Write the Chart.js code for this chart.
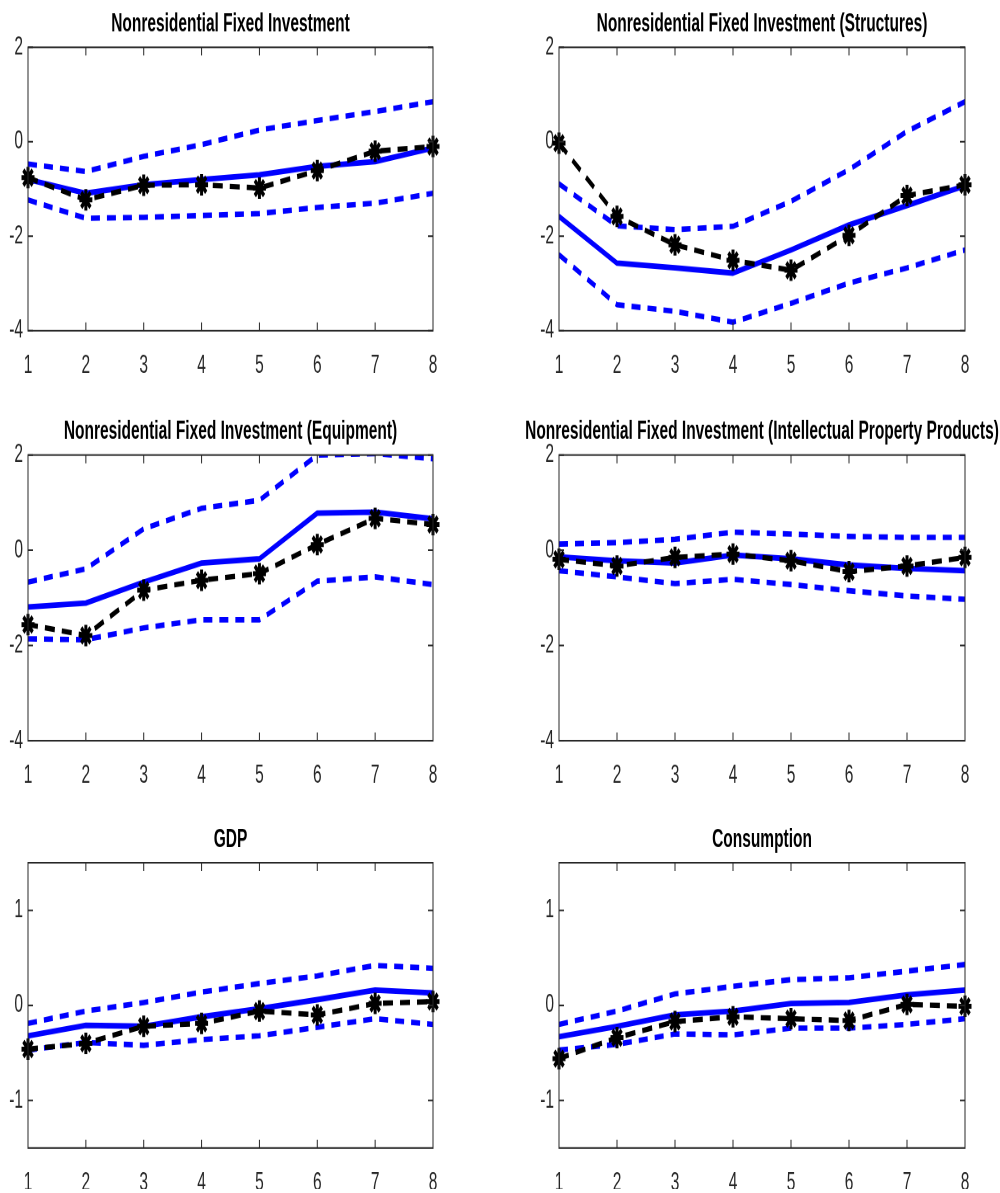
<!DOCTYPE html>
<html>
<head>
<meta charset="utf-8">
<script src="https://cdn.jsdelivr.net/npm/chart.js@4.4.1/dist/chart.umd.min.js"></script>
<style>
  html, body { margin: 0; padding: 0; background: #ffffff; }
  body { width: 1000px; height: 1193px; position: relative; overflow: hidden; }
  .panel { position: absolute; width: 500px; height: 236px; transform: scaleY(1.65); transform-origin: 0 0; }
</style>
</head>
<body>
<div class="panel" style="left:0px;top:0px"><canvas id="c1" width="500" height="236"></canvas></div>
<div class="panel" style="left:500px;top:0px"><canvas id="c2" width="500" height="236"></canvas></div>
<div class="panel" style="left:0px;top:400px"><canvas id="c3" width="500" height="236"></canvas></div>
<div class="panel" style="left:500px;top:400px"><canvas id="c4" width="500" height="236"></canvas></div>
<div class="panel" style="left:0px;top:800px"><canvas id="c5" width="500" height="236"></canvas></div>
<div class="panel" style="left:500px;top:800px"><canvas id="c6" width="500" height="236"></canvas></div>
<script>
// ---------- data ----------
const horizons = ['1', '2', '3', '4', '5', '6', '7', '8'];
const yTicksWide = [-4, -2, 0, 2];
const yTicksNarrow = [-1, 0, 1];

const titles = [
  'Nonresidential Fixed Investment',
  'Nonresidential Fixed Investment (Structures)',
  'Nonresidential Fixed Investment (Equipment)',
  'Nonresidential Fixed Investment (Intellectual Property Products)',
  'GDP',
  'Consumption'
];

const nfiMedian = [-0.80, -1.09, -0.91, -0.80, -0.70, -0.52, -0.42, -0.13];
const nfiUpper  = [-0.47, -0.63, -0.31, -0.06, 0.25, 0.45, 0.64, 0.85];
const nfiLower  = [-1.23, -1.62, -1.60, -1.56, -1.52, -1.39, -1.30, -1.09];
const nfiActual = [-0.76, -1.23, -0.92, -0.91, -0.98, -0.61, -0.20, -0.10];

const strMedian = [-1.58, -2.57, -2.67, -2.78, -2.29, -1.76, -1.35, -0.93];
const strUpper  = [-0.89, -1.78, -1.86, -1.79, -1.26, -0.59, 0.22, 0.85];
const strLower  = [-2.39, -3.45, -3.59, -3.82, -3.42, -2.99, -2.67, -2.29];
const strActual = [-0.03, -1.58, -2.18, -2.51, -2.72, -1.98, -1.14, -0.91];

const eqpMedian = [-1.19, -1.11, -0.67, -0.27, -0.18, 0.78, 0.80, 0.66];
const eqpUpper  = [-0.67, -0.39, 0.45, 0.88, 1.05, 2.00, 2.03, 1.92];
const eqpLower  = [-1.86, -1.88, -1.63, -1.46, -1.46, -0.65, -0.56, -0.72];
const eqpActual = [-1.56, -1.79, -0.84, -0.63, -0.49, 0.12, 0.67, 0.54];

const ippMedian = [-0.14, -0.22, -0.27, -0.10, -0.18, -0.31, -0.38, -0.43];
const ippUpper  = [0.13, 0.16, 0.23, 0.38, 0.34, 0.29, 0.27, 0.27];
const ippLower  = [-0.43, -0.56, -0.70, -0.61, -0.72, -0.85, -0.96, -1.03];
const ippActual = [-0.19, -0.33, -0.15, -0.08, -0.22, -0.45, -0.33, -0.15];

const gdpMedian = [-0.32, -0.21, -0.22, -0.12, -0.035, 0.06, 0.16, 0.13];
const gdpUpper  = [-0.19, -0.06, 0.03, 0.14, 0.23, 0.31, 0.42, 0.39];
const gdpLower  = [-0.47, -0.39, -0.42, -0.36, -0.32, -0.23, -0.14, -0.20];
const gdpActual = [-0.46, -0.40, -0.22, -0.19, -0.06, -0.10, 0.02, 0.04];

const conMedian = [-0.33, -0.22, -0.10, -0.06, 0.02, 0.03, 0.11, 0.16];
const conUpper  = [-0.20, -0.06, 0.12, 0.20, 0.27, 0.29, 0.36, 0.43];
const conLower  = [-0.47, -0.41, -0.30, -0.31, -0.24, -0.24, -0.20, -0.14];
const conActual = [-0.56, -0.34, -0.17, -0.12, -0.14, -0.16, 0.01, -0.01];

// ---------- layout (canvas units, before the vertical stretch) ----------
const S = 1.65;
const rowTopPx = [0, 400, 800];
const areaTopPx = [47.3, 455, 862.7];
const areaBotPx = [330.7, 740.7, 1148];
const CANVAS_H = 236;
const colLeft = [28, 59];
const colRightPad = [67, 35];

Chart.defaults.font.family = "'Liberation Sans', Arial, Helvetica, sans-serif";
Chart.defaults.color = '#262626';

const frame = {
  id: 'frame',
  afterDatasetsDraw(chart, args, opts) {
    const { ctx, chartArea: a, scales: { x, y } } = chart;
    ctx.save();
    ctx.strokeStyle = '#262626';
    ctx.lineWidth = 1;
    ctx.beginPath();
    x.ticks.forEach((t, i) => {
      const px = x.getPixelForTick(i);
      ctx.moveTo(px, a.bottom); ctx.lineTo(px, a.bottom - 5);
      ctx.moveTo(px, a.top); ctx.lineTo(px, a.top + 5);
    });
    y.ticks.forEach((t) => {
      const py = y.getPixelForValue(t.value);
      ctx.moveTo(a.left, py); ctx.lineTo(a.left + 5, py);
      ctx.moveTo(a.right, py); ctx.lineTo(a.right - 5, py);
    });
    ctx.stroke();
    ctx.strokeRect(a.left, a.top, a.right - a.left, a.bottom - a.top);
    // title
    ctx.fillStyle = '#000000';
    ctx.font = "bold 15.5px 'Liberation Sans', Arial, sans-serif";
    ctx.textAlign = 'center';
    ctx.textBaseline = 'middle';
    ctx.fillText(opts.text, (a.left + a.right) / 2, a.top - 14);
    ctx.restore();
  }
};

function makePanel(id, idx, median, upper, lower, actual, yMin, yMax, yTicks) {
  const col = idx % 2, row = Math.floor(idx / 2);
  const padTop = (areaTopPx[row] - rowTopPx[row]) / S;
  const xAxisH = CANVAS_H - (areaBotPx[row] - rowTopPx[row]) / S;
  const band = (data) => ({
    data, borderColor: '#0000ff', borderWidth: 3.3, borderDash: [9, 7], borderCapStyle: 'butt',
    pointRadius: 0, tension: 0, fill: false, clip: 0
  });
  new Chart(document.getElementById(id), {
    type: 'line',
    data: {
      labels: horizons,
      datasets: [
        { data: actual, borderColor: '#000000', borderWidth: 3.2, borderDash: [10, 7], borderCapStyle: 'butt',
          pointStyle: 'star', pointRadius: 6.5, pointBorderColor: '#000000', pointBorderWidth: 3,
          pointBackgroundColor: '#000000', tension: 0, fill: false, clip: 14 },
        { data: median, borderColor: '#0000ff', borderWidth: 3.4, borderJoinStyle: 'round',
          pointRadius: 0, tension: 0, fill: false, clip: 0 },
        band(upper),
        band(lower)
      ]
    },
    options: {
      responsive: false,
      animation: false,
      devicePixelRatio: 2,
      layout: { padding: { top: padTop, right: colRightPad[col], bottom: 0, left: 0 } },
      plugins: { legend: { display: false }, tooltip: { enabled: false }, title: { display: false },
                 frame: { text: titles[idx] } },
      scales: {
        x: {
          type: 'category', offset: false,
          grid: { display: false, drawTicks: false }, border: { display: false },
          ticks: { padding: 12, font: { size: 15.5 }, color: '#262626', maxRotation: 0, autoSkip: false },
          afterFit(scale) { scale.height = xAxisH; }
        },
        y: {
          min: yMin, max: yMax,
          grid: { display: false, drawTicks: false }, border: { display: false },
          ticks: { padding: 5, font: { size: 15.5 }, color: '#262626' },
          afterBuildTicks(scale) { scale.ticks = yTicks.map(v => ({ value: v })); },
          afterFit(scale) { scale.width = colLeft[col]; }
        }
      }
    },
    plugins: [frame]
  });
}

makePanel('c1', 0, nfiMedian, nfiUpper, nfiLower, nfiActual, -4, 2, yTicksWide);
makePanel('c2', 1, strMedian, strUpper, strLower, strActual, -4, 2, yTicksWide);
makePanel('c3', 2, eqpMedian, eqpUpper, eqpLower, eqpActual, -4, 2, yTicksWide);
makePanel('c4', 3, ippMedian, ippUpper, ippLower, ippActual, -4, 2, yTicksWide);
makePanel('c5', 4, gdpMedian, gdpUpper, gdpLower, gdpActual, -1.5, 1.5, yTicksNarrow);
makePanel('c6', 5, conMedian, conUpper, conLower, conActual, -1.5, 1.5, yTicksNarrow);
</script>
</body>
</html>
